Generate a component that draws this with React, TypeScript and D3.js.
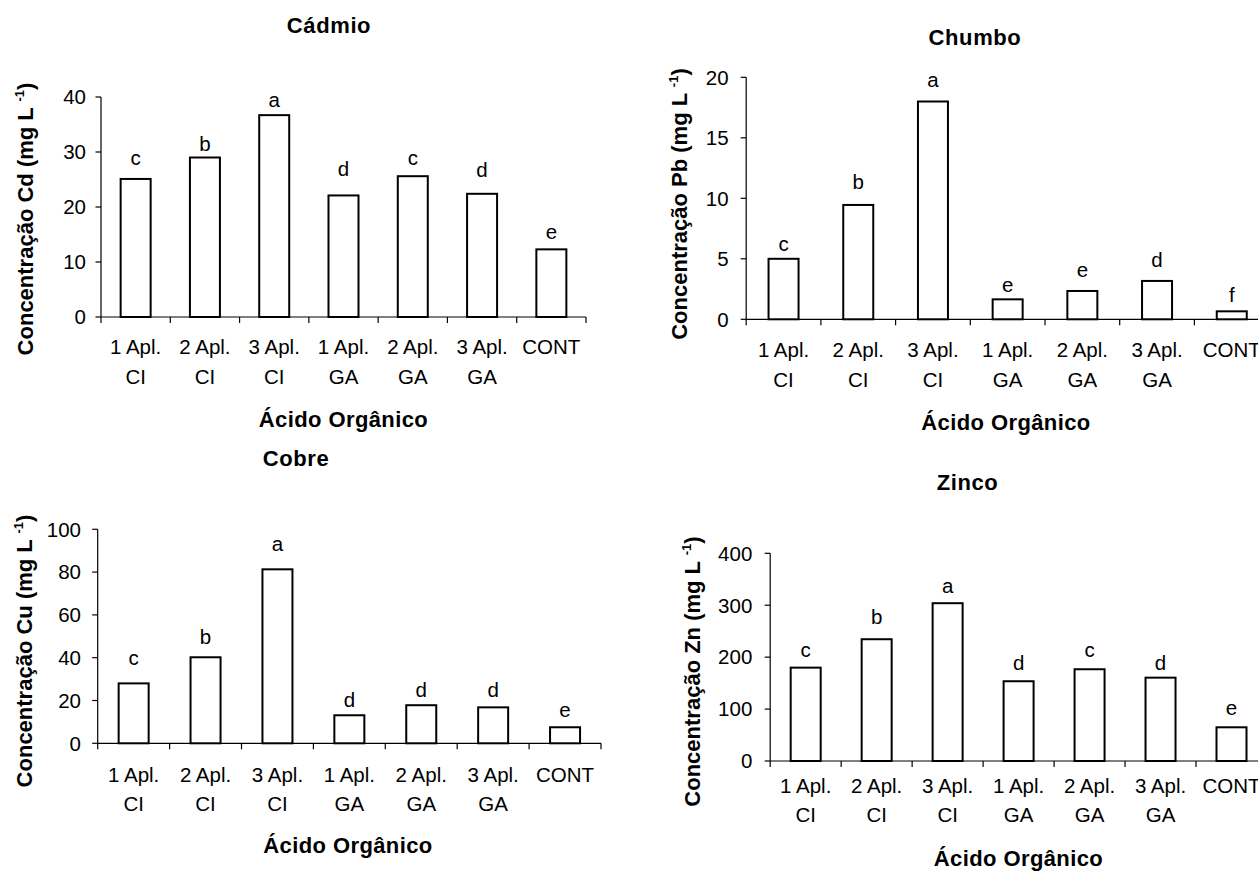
import React from "react";
import * as d3 from "d3";

const catLine1 = ["1 Apl.", "2 Apl.", "3 Apl.", "1 Apl.", "2 Apl.", "3 Apl.", "CONT"];
const catLine2 = ["CI", "CI", "CI", "GA", "GA", "GA", ""];

const cdValues = [25.1, 29.0, 36.7, 22.1, 25.6, 22.4, 12.3];
const cdLetters = ["c", "b", "a", "d", "c", "d", "e"];
const cdLetterPos = [27.6, 30.2, 38.2, 25.6, 27.6, 25.5, 14.2];
const cdTicks = [0, 10, 20, 30, 40];

const pbValues = [5.0, 9.45, 18.0, 1.65, 2.34, 3.17, 0.66];
const pbLetters = ["c", "b", "a", "e", "e", "d", "f"];
const pbLetterPos = [5.67, 10.8, 19.2, 2.23, 3.52, 4.35, 1.45];
const pbTicks = [0, 5, 10, 15, 20];

const cuValues = [28.0, 40.2, 81.3, 13.1, 17.8, 16.8, 7.5];
const cuLetters = ["c", "b", "a", "d", "d", "d", "e"];
const cuLetterPos = [36.6, 46.4, 90, 17.1, 21.8, 21.8, 12.4];
const cuTicks = [0, 20, 40, 60, 80, 100];

const znValues = [179.8, 234.5, 303.9, 153.6, 176.7, 160.5, 64.9];
const znLetters = ["c", "b", "a", "d", "c", "d", "e"];
const znLetterPos = [201, 263, 324, 175, 201, 175, 88.6];
const znTicks = [0, 100, 200, 300, 400];

const FONT = "'Liberation Sans', Arial, Helvetica, sans-serif";
const FS = 20.5;
const BFS = 22;

type Layout = {
  left: number; right: number; y0: number; yTop: number;
  titleX: number; titleY: number; yLabX: number; yLabY: number;
  xLab1: number; xLab2: number; xTitleX: number; xTitleY: number; tickEnd: number;
};

function Panel(props: {
  title: string; element: string; values: number[]; letters: string[]; letterPos: number[];
  ticks: number[]; L: Layout;
}) {
  const { title, element, values, letters, letterPos, ticks, L } = props;
  const max = ticks[ticks.length - 1];
  const y = d3.scaleLinear().domain([0, max]).range([L.y0, L.yTop]);
  const x = d3.scaleBand<number>().domain(d3.range(values.length)).range([L.left, L.right]).padding(0);
  const bw = x.bandwidth();
  const barW = 30;
  const boundaries = d3.range(values.length + 1).map((i) => L.left + i * bw);
  return (
    <g fontFamily={FONT}>
      <text x={L.titleX} y={L.titleY} textAnchor="middle" fontWeight="bold" fontSize={BFS} letterSpacing={0.6}>
        {title}
      </text>
      {/* y axis */}
      <line x1={L.left} x2={L.left} y1={L.y0} y2={L.yTop} stroke="#000" strokeWidth={1.2} />
      {ticks.map((t) => (
        <g key={t}>
          <line x1={L.left - 5.5} x2={L.left} y1={y(t)} y2={y(t)} stroke="#000" strokeWidth={1.2} />
          <text x={L.tickEnd} y={y(t) + 0.358 * FS} textAnchor="end" fontSize={FS}>{t}</text>
        </g>
      ))}
      {/* x axis */}
      <line x1={L.left} x2={L.right} y1={L.y0} y2={L.y0} stroke="#000" strokeWidth={1.2} />
      {boundaries.map((bx, i) => (
        <line key={i} x1={bx} x2={bx} y1={L.y0} y2={L.y0 + 6} stroke="#000" strokeWidth={1.2} />
      ))}
      {values.map((v, i) => {
        const cx = (x(i) as number) + bw / 2;
        return (
          <g key={i}>
            <rect x={cx - barW / 2} y={y(v)} width={barW} height={L.y0 - y(v)} fill="#fff" stroke="#000" strokeWidth={2} />
            <text x={cx} y={y(letterPos[i])} textAnchor="middle" fontSize={FS}>{letters[i]}</text>
            <text x={cx} y={L.xLab1} textAnchor="middle" fontSize={FS}>{catLine1[i]}</text>
            <text x={cx} y={L.xLab2} textAnchor="middle" fontSize={FS}>{catLine2[i]}</text>
          </g>
        );
      })}
      <text x={L.xTitleX} y={L.xTitleY} textAnchor="middle" fontWeight="bold" fontSize={BFS} letterSpacing={0.4}>
        Ácido Orgânico
      </text>
      <text transform={`translate(${L.yLabX},${L.yLabY}) rotate(-90)`} textAnchor="middle" fontWeight="bold" fontSize={BFS}>
        {`Concentração ${element} (mg L `}
        <tspan fontSize={13} dy={-9}>-1</tspan>
        <tspan dy={9}>)</tspan>
      </text>
    </g>
  );
}

export default function App() {
  const L1: Layout = { left: 101, right: 586, y0: 317, yTop: 97, titleX: 329, titleY: 33, yLabX: 33, yLabY: 219, xLab1: 354, xLab2: 384, xTitleX: 343.5, xTitleY: 427, tickEnd: 86 };
  const L2: Layout = { left: 746.2, right: 746.2 + 7 * 74.7, y0: 319.3, yTop: 77.3, titleX: 975, titleY: 45, yLabX: 686.5, yLabY: 204, xLab1: 356.7, xLab2: 386.7, xTitleX: 1006, xTitleY: 430, tickEnd: 728.6 };
  const L3: Layout = { left: 97.7, right: 601, y0: 743.3, yTop: 529.3, titleX: 296, titleY: 466, yLabX: 31.6, yLabY: 651, xLab1: 781.7, xLab2: 810.7, xTitleX: 348, xTitleY: 853, tickEnd: 81 };
  const L4: Layout = { left: 770.2, right: 770.2 + 7 * 70.97, y0: 761, yTop: 553.3, titleX: 967.6, titleY: 490, yLabX: 700, yLabY: 671.5, xLab1: 793, xLab2: 821.7, xTitleX: 1018.5, xTitleY: 866, tickEnd: 752.3 };
  return (
    <svg width={1258} height={875} style={{ position: "absolute", left: 0, top: 0, background: "#fff" }}>
      <rect width={1258} height={875} fill="#fff" />
      <Panel title="Cádmio" element="Cd" values={cdValues} letters={cdLetters} letterPos={cdLetterPos} ticks={cdTicks} L={L1} />
      <Panel title="Chumbo" element="Pb" values={pbValues} letters={pbLetters} letterPos={pbLetterPos} ticks={pbTicks} L={L2} />
      <Panel title="Cobre" element="Cu" values={cuValues} letters={cuLetters} letterPos={cuLetterPos} ticks={cuTicks} L={L3} />
      <Panel title="Zinco" element="Zn" values={znValues} letters={znLetters} letterPos={znLetterPos} ticks={znTicks} L={L4} />
    </svg>
  );
}
